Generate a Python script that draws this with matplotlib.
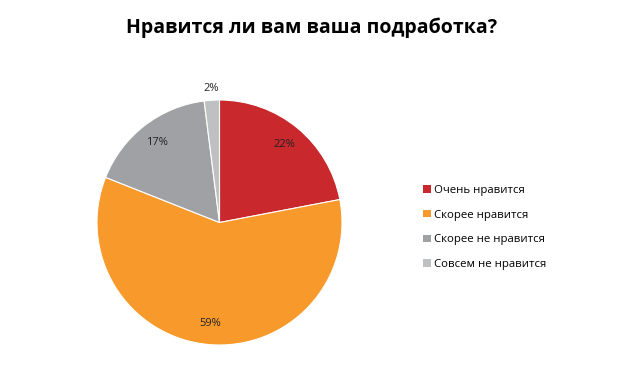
import matplotlib
matplotlib.use("Agg")
import matplotlib.pyplot as plt
from matplotlib.patches import Patch
import numpy as np

labels = ["Очень нравится", "Скорее нравится", "Скорее не нравится", "Совсем не нравится"]
values = [22, 59, 17, 2]
colors = ["#C9282D", "#F7992B", "#A0A1A5", "#BFC0C2"]

plt.rcParams["font.family"] = ["Open Sans", "DejaVu Sans"]

W, H = 624, 382
fig = plt.figure(figsize=(W / 100, H / 100), dpi=100)
fig.patch.set_facecolor("white")

cx, cy, r = 219.5, 222.5, 122.5
ax = fig.add_axes([(cx - r) / W, (H - cy - r) / H, 2 * r / W, 2 * r / H])
wedges, texts, autotexts = ax.pie(
    values, colors=colors, startangle=90, counterclock=False,
    autopct="%1.0f%%", pctdistance=0.83, radius=1,
    wedgeprops={"edgecolor": "white", "linewidth": 0.8},
    textprops={"fontsize": 8, "color": "#222222"},
)
# small slice label goes outside
for w, t, v in zip(wedges, autotexts, values):
    if v < 5:
        ang = np.deg2rad((w.theta1 + w.theta2) / 2)
        t.set_position((1.1 * np.cos(ang), 1.1 * np.sin(ang)))
ax.set_xlim(-1, 1)
ax.set_ylim(-1, 1)
ax.set_aspect("equal")
ax.axis("off")

fig.text(312 / W, 1 - 28 / H, "Нравится ли вам ваша подработка?",
         ha="center", va="center", fontsize=14, fontweight="bold")

handles = [Patch(facecolor=c, edgecolor="none") for c in colors]
fig.legend(handles, labels, loc="center left", bbox_to_anchor=(413 / W, 1 - 227.5 / H),
           frameon=False, fontsize=8.2, handlelength=0.65, handleheight=0.65,
           handletextpad=0.3, labelspacing=1.2)

fig.savefig("out.png", dpi=100)
